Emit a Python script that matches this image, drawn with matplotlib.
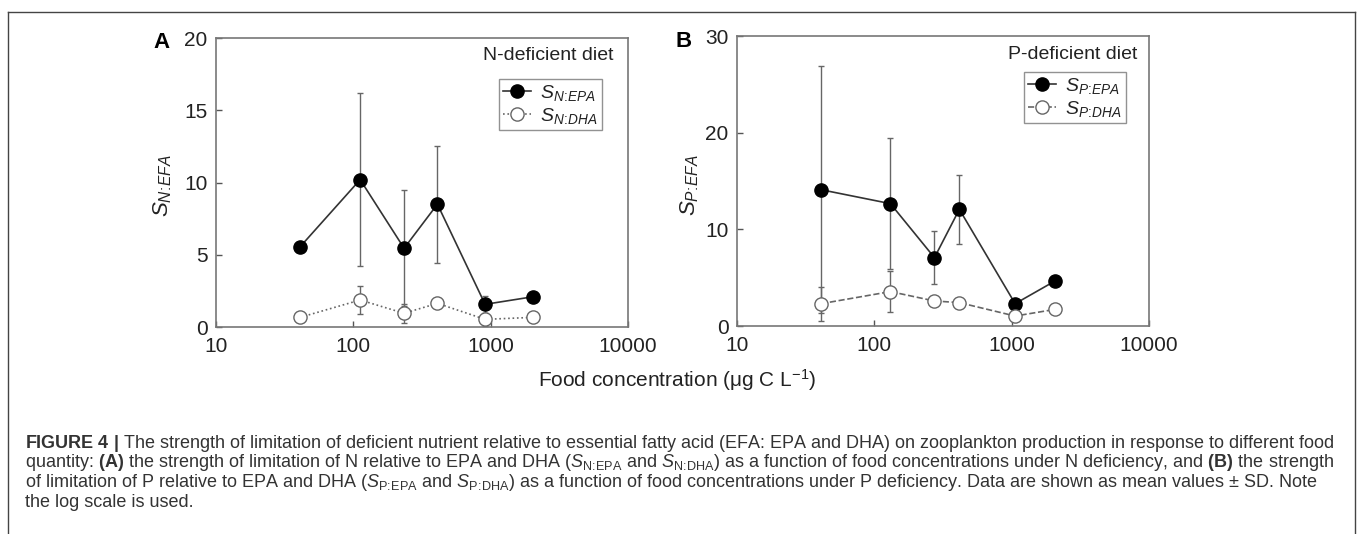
import numpy as np
import matplotlib
matplotlib.use("Agg")
import matplotlib.pyplot as plt
from matplotlib.lines import Line2D

plt.rcParams['font.family'] = ['Liberation Sans', 'DejaVu Sans']
plt.rcParams['mathtext.fontset'] = 'custom'
plt.rcParams['mathtext.rm'] = 'Liberation Sans'
plt.rcParams['mathtext.it'] = 'Liberation Sans:italic'
plt.rcParams['mathtext.bf'] = 'Liberation Sans:bold'

# panel A : N-deficient diet
food_a = [41, 112, 234, 409, 910, 2047]
s_n_epa = [5.56, 10.2, 5.45, 8.5, 1.57, 2.1]
s_n_epa_sd = [0.3, 6.0, 4.0, 4.05, 0.6, 0.2]
s_n_dha = [0.67, 1.87, 0.95, 1.64, 0.53, 0.67]
s_n_dha_sd = [0.2, 1.0, 0.65, 0.2, 0.45, 0.2]

# panel B : P-deficient diet
food_b = [41, 131, 274, 416, 1060, 2070]
s_p_epa = [14.1, 12.66, 7.07, 12.07, 2.31, 4.66]
s_p_epa_sd = [12.8, 6.8, 2.75, 3.6, 0.3, 0.3]
s_p_dha = [2.31, 3.56, 2.59, 2.42, 1.03, 1.72]
s_p_dha_sd = [1.75, 2.1, 0.3, 0.4, 0.3, 0.3]

x_ticks = [10, 100, 1000, 10000]

TXT = '#222222'
GRAY = '#555555'

fig = plt.figure(figsize=(13.58, 5.34), dpi=100)

# outer figure frame (open at the bottom)
frame_kw = dict(color='#444444', lw=1.0, transform=fig.transFigure)
fig.add_artist(Line2D([0.0059, 0.0059], [0.0, 0.9775], **frame_kw))
fig.add_artist(Line2D([0.0059, 0.9978], [0.9775, 0.9775], **frame_kw))
fig.add_artist(Line2D([0.9978, 0.9978], [0.0, 0.9775], **frame_kw))

ax_a = fig.add_axes([0.1591, 0.3876, 0.3034, 0.5412])
ax_b = fig.add_axes([0.5427, 0.3895, 0.3034, 0.5430])


def draw_panel(ax, x, epa, epa_sd, dha, dha_sd, ymax, yticks, dha_ls, lab_epa, lab_dha):
    ax.errorbar(x, epa, yerr=epa_sd, fmt='none', ecolor='#666666', elinewidth=1.0,
                capsize=2, capthick=1.0, zorder=2)
    ax.errorbar(x, dha, yerr=dha_sd, fmt='none', ecolor='#666666', elinewidth=1.0,
                capsize=2, capthick=1.0, zorder=2)
    ax.plot(x, epa, '-', color='#333333', lw=1.2, marker='o', ms=9.5,
            mfc='black', mec='black', zorder=3, label=lab_epa)
    ax.plot(x, dha, linestyle=dha_ls, color='#666666', lw=1.2, marker='o', ms=9.5,
            mfc='white', mec='#666666', mew=1.0, zorder=4, label=lab_dha)
    ax.set_xscale('log')
    ax.set_xlim(10, 10000)
    ax.set_ylim(0, ymax)
    ax.set_xticks(x_ticks)
    ax.set_xticklabels([str(t) for t in x_ticks])
    ax.minorticks_off()
    ax.set_yticks(yticks)
    ax.tick_params(direction='in', length=4, width=1, colors=GRAY,
                   labelsize=15, labelcolor=TXT, top=False, right=False)
    ax.tick_params(axis='x', pad=7)
    ax.tick_params(axis='y', pad=6)
    for sp in ax.spines.values():
        sp.set_color('#777777')
        sp.set_linewidth(1.2)


draw_panel(ax_a, food_a, s_n_epa, s_n_epa_sd, s_n_dha, s_n_dha_sd, 20, [0, 5, 10, 15, 20],
           ':', r'$S_{N\!:\!EPA}$', r'$S_{N\!:\!DHA}$')
draw_panel(ax_b, food_b, s_p_epa, s_p_epa_sd, s_p_dha, s_p_dha_sd, 30, [0, 10, 20, 30],
           '--', r'$S_{P\!:\!EPA}$', r'$S_{P\!:\!DHA}$')

for ax, anchor in [(ax_a, (0.936, 0.857)), (ax_b, (0.944, 0.875))]:
    leg = ax.legend(loc='upper right', bbox_to_anchor=anchor, borderaxespad=0,
                    fontsize=14, handlelength=1.4, handletextpad=0.5,
                    labelspacing=0.15, borderpad=0.2, fancybox=False, frameon=True)
    leg.get_frame().set_edgecolor('#777777')
    leg.get_frame().set_linewidth(1.0)
    for t in leg.get_texts():
        t.set_color(TXT)

ax_a.text(0.964, 0.941, 'N-deficient diet', transform=ax_a.transAxes, ha='right',
          va='center', fontsize=14, color=TXT)
ax_b.text(0.971, 0.938, 'P-deficient diet', transform=ax_b.transAxes, ha='right',
          va='center', fontsize=14, color=TXT)

ax_a.text(-0.130, 0.49, r'$S_{N\!:\!EFA}$', transform=ax_a.transAxes, rotation=90,
          ha='center', va='center', fontsize=16, color=TXT)
ax_b.text(-0.114, 0.486, r'$S_{P\!:\!EFA}$', transform=ax_b.transAxes, rotation=90,
          ha='center', va='center', fontsize=16, color=TXT)

fig.text(0.1186, 0.921, 'A', fontsize=16, fontweight='bold', ha='center', va='center', color='black')
fig.text(0.5037, 0.922, 'B', fontsize=16, fontweight='bold', ha='center', va='center', color='black')

fig.text(0.499, 0.288, r'Food concentration (μg C L$^{\mathrm{-1}}$)', fontsize=15,
         ha='center', va='center', color=TXT)

caption = [
    r'$\mathbf{FIGURE\ 4\ |}$ The strength of limitation of deficient nutrient relative to essential fatty acid (EFA: EPA and DHA) on zooplankton production in response to different food',
    r'quantity: $\mathbf{(A)}$ the strength of limitation of N relative to EPA and DHA ($\mathit{S}_{\mathrm{N\!:\!EPA}}$ and $\mathit{S}_{\mathrm{N\!:\!DHA}}$) as a function of food concentrations under N deficiency, and $\mathbf{(B)}$ the strength',
    r'of limitation of P relative to EPA and DHA ($\mathit{S}_{\mathrm{P\!:\!EPA}}$ and $\mathit{S}_{\mathrm{P\!:\!DHA}}$) as a function of food concentrations under P deficiency. Data are shown as mean values ± SD. Note',
    'the log scale is used.',
]
for i, line in enumerate(caption):
    fig.text(25 / 1358, 1 - (443 + 19.7 * i) / 534, line, fontsize=13.0,
             ha='left', va='center', color='#333333')

fig.savefig('out.png', dpi=100)
